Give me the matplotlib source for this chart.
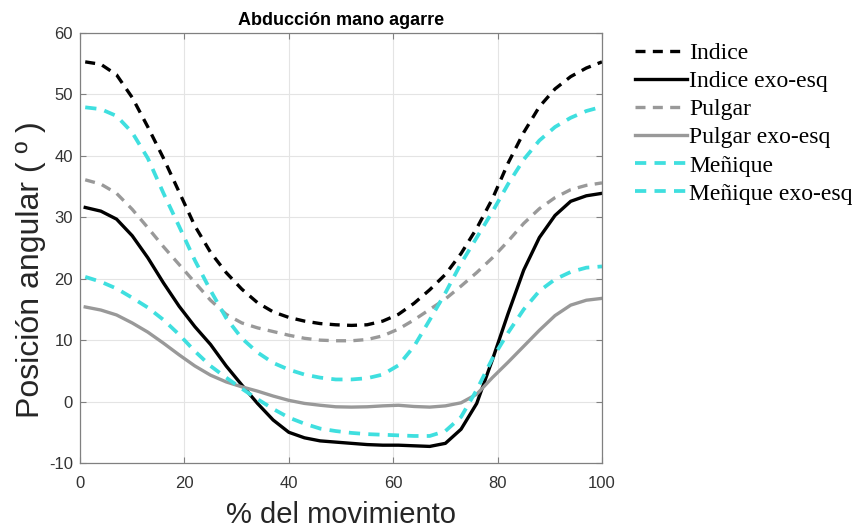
import matplotlib
matplotlib.use("Agg")
import matplotlib.pyplot as plt

# % del movimiento (sample positions)
x_pct = [1, 4, 7, 10, 13, 16, 19, 22, 25, 28, 31, 34, 37, 40, 43, 46, 49,
         52, 55, 58, 61, 64, 67, 70, 73, 76, 79, 82, 85, 88, 91, 94, 97, 100]

indice = [55.3, 54.9, 53.2, 49.5, 44.7, 39.6, 34.1, 28.6, 24.3, 21.0, 18.3, 16.1,
          14.6, 13.7, 13.1, 12.7, 12.5, 12.4, 12.5, 13.1, 14.2, 16.0, 18.2, 20.7,
          24.1, 28.2, 33.0, 38.8, 43.8, 48.0, 50.9, 52.9, 54.3, 55.3]

indice_exo = [31.6, 31.0, 29.7, 27.0, 23.4, 19.3, 15.5, 12.2, 9.3, 5.8, 2.7, -0.3,
              -3.0, -5.0, -5.9, -6.4, -6.6, -6.8, -7.0, -7.1, -7.1, -7.2, -7.3, -6.8,
              -4.5, -0.3, 6.8, 14.3, 21.4, 26.7, 30.3, 32.6, 33.5, 33.9]

pulgar = [36.1, 35.4, 33.9, 31.3, 28.3, 25.2, 22.3, 19.4, 16.5, 14.2, 12.8, 12.0,
          11.4, 10.8, 10.3, 10.0, 9.9, 9.9, 10.1, 10.7, 11.8, 13.3, 15.0, 16.7,
          18.8, 21.0, 23.4, 26.1, 29.0, 31.4, 33.2, 34.5, 35.2, 35.6]

pulgar_exo = [15.4, 14.9, 14.1, 12.8, 11.3, 9.5, 7.6, 5.8, 4.3, 3.2, 2.4, 1.7,
              0.9, 0.2, -0.3, -0.6, -0.85, -0.9, -0.85, -0.7, -0.6, -0.8, -0.9, -0.7,
              -0.2, 1.2, 3.9, 6.4, 9.0, 11.6, 14.0, 15.7, 16.5, 16.8]

menique = [47.9, 47.6, 46.5, 43.8, 39.6, 33.9, 28.5, 23.0, 18.1, 13.6, 10.3, 8.0,
           6.3, 5.2, 4.4, 3.9, 3.6, 3.6, 3.8, 4.4, 5.9, 9.0, 13.3, 17.7,
           22.5, 26.7, 30.9, 35.4, 39.4, 42.5, 44.7, 46.2, 47.3, 48.0]

menique_exo = [20.3, 19.5, 18.4, 16.9, 15.3, 13.3, 10.9, 8.2, 5.8, 3.9, 2.1, 0.4,
               -1.2, -2.6, -3.6, -4.4, -4.8, -5.1, -5.3, -5.4, -5.5, -5.6, -5.6, -4.8,
               -2.5, 1.9, 7.0, 11.2, 15.0, 18.0, 19.9, 21.1, 21.8, 22.0]

labels = ["Indice", "Indice exo-esq", "Pulgar", "Pulgar exo-esq", "Meñique", "Meñique exo-esq"]
x_ticks = [0, 20, 40, 60, 80, 100]
y_ticks = [-10, 0, 10, 20, 30, 40, 50, 60]

cyan = "#3fdfdf"
gray = "#999999"

plt.rcParams['font.family'] = ['Liberation Sans', 'DejaVu Sans']
plt.rcParams['axes.unicode_minus'] = False
fig = plt.figure(figsize=(8.53, 5.30), dpi=100)
ax = fig.add_axes([80/853, 67/530, 522/853, 430/530])

dash = (0, (3.0, 2.2))
ax.plot(x_pct, indice, color="black", ls=dash, lw=2.4, label=labels[0])
ax.plot(x_pct, indice_exo, color="black", ls="-", lw=2.4, label=labels[1])
ax.plot(x_pct, pulgar, color=gray, ls=dash, lw=2.4, label=labels[2])
ax.plot(x_pct, pulgar_exo, color=gray, ls="-", lw=2.4, label=labels[3])
ax.plot(x_pct, menique, color=cyan, ls=dash, lw=2.7, label=labels[4])
ax.plot(x_pct, menique_exo, color=cyan, ls=dash, lw=2.7, label=labels[5])

ax.set_xlim(0, 100)
ax.set_ylim(-10, 60)
ax.set_xticks(x_ticks)
ax.set_yticks(y_ticks)
ax.grid(True, color="#e4e4e4", lw=0.8)
ax.set_axisbelow(True)
for s in ax.spines.values():
    s.set_color("#808080")
    s.set_linewidth(0.9)
ax.tick_params(direction="in", length=4, color="#808080", labelsize=12,
               labelcolor="#333333", top=True, right=True)
ax.tick_params(axis="y", pad=5)
ax.tick_params(axis="x", pad=9)
ax.set_title("Abducción mano agarre", fontsize=13, fontweight="bold", pad=6)
ax.set_xlabel("% del movimiento", fontsize=21, color="#262626")
ax.set_ylabel("Posición angular ( º )", fontsize=23, color="#262626")
ax.xaxis.set_label_coords(0.5, -0.088)
ax.yaxis.set_label_coords(-0.066, 0.449)

leg = ax.legend(loc="upper left", bbox_to_anchor=(1.045, 1.0), frameon=False,
                prop={"family": "Liberation Serif", "size": 17},
                handlelength=2.2, handletextpad=0.1, labelspacing=0.28,
                borderaxespad=0.0)

fig.savefig("out.png", dpi=100)
